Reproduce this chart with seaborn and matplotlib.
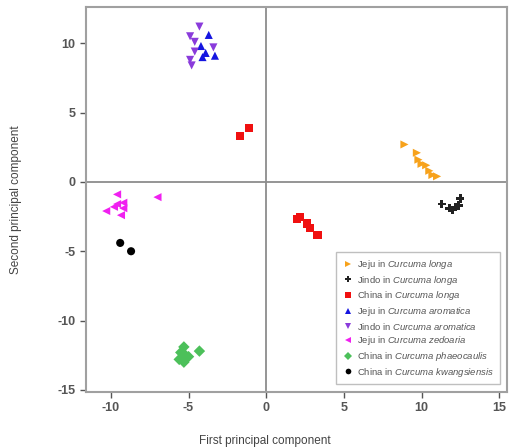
import matplotlib
matplotlib.use("Agg")
import matplotlib.pyplot as plt
import seaborn as sns
import pandas as pd
import numpy as np

# PCA scores
jeju_longa_x = [8.9, 9.7, 9.8, 10.0, 10.3, 10.5, 10.7, 11.0]
jeju_longa_y = [2.7, 2.1, 1.6, 1.3, 1.2, 0.8, 0.5, 0.4]
jindo_longa_x = [11.3, 11.8, 12.2, 12.5, 12.4, 12.0]
jindo_longa_y = [-1.6, -1.9, -1.8, -1.2, -1.7, -2.0]
china_longa_x = [-1.7, -1.1, 2.0, 2.2, 2.6, 2.8, 3.3]
china_longa_y = [3.3, 3.9, -2.7, -2.5, -3.0, -3.3, -3.8]
jeju_arom_x = [-3.7, -4.2, -3.9, -3.3, -4.1]
jeju_arom_y = [10.6, 9.8, 9.3, 9.1, 9.0]
jindo_arom_x = [-4.3, -4.9, -4.6, -3.4, -4.6, -4.9, -4.8]
jindo_arom_y = [11.2, 10.5, 10.1, 9.7, 9.4, 8.8, 8.4]
jeju_zed_x = [-9.6, -10.3, -9.8, -9.2, -9.35, -9.6, -9.2, -7.0]
jeju_zed_y = [-0.9, -2.1, -1.8, -1.5, -2.4, -1.6, -1.9, -1.1]
china_phae_x = [-5.3, -5.5, -5.2, -5.6, -5.3, -5.0, -4.3]
china_phae_y = [-11.9, -12.3, -12.5, -12.8, -13.0, -12.6, -12.2]
china_kwan_x = [-9.4, -8.7]
china_kwan_y = [-4.4, -5.0]

groups = [
    (r"Jeju in $\it{Curcuma\ longa}$", jeju_longa_x, jeju_longa_y),
    (r"Jindo in $\it{Curcuma\ longa}$", jindo_longa_x, jindo_longa_y),
    (r"China in $\it{Curcuma\ longa}$", china_longa_x, china_longa_y),
    (r"Jeju in $\it{Curcuma\ aromatica}$", jeju_arom_x, jeju_arom_y),
    (r"Jindo in $\it{Curcuma\ aromatica}$", jindo_arom_x, jindo_arom_y),
    (r"Jeju in $\it{Curcuma\ zedoaria}$", jeju_zed_x, jeju_zed_y),
    (r"China in $\it{Curcuma\ phaeocaulis}$", china_phae_x, china_phae_y),
    (r"China in $\it{Curcuma\ kwangsiensis}$", china_kwan_x, china_kwan_y),
]
colors = ["#F7A21B", "#222222", "#F01010", "#1515E0", "#8A3BDB", "#F020F0", "#4CC05A", "#000000"]
markers = [">", "P", "s", "^", "v", "<", "D", "o"]

rows = []
for name, xs, ys in groups:
    for x, y in zip(xs, ys):
        rows.append({"PC1": x, "PC2": y, "group": name})
df = pd.DataFrame(rows)
names = [g[0] for g in groups]

sns.set_style("white")
plt.rcParams["font.family"] = ["Liberation Sans", "DejaVu Sans"]
plt.rcParams["mathtext.fontset"] = "custom"
plt.rcParams["mathtext.it"] = "Liberation Sans:italic"
plt.rcParams["mathtext.rm"] = "Liberation Sans"
plt.rcParams["axes.unicode_minus"] = False

fig = plt.figure(figsize=(5.09, 4.48), dpi=100)
ax = fig.add_axes([0.169, 0.125, 0.827, 0.859])

gray = "#8c8c8c"
ax.axhline(0, color=gray, lw=1.3, zorder=1)
ax.axvline(0, color=gray, lw=1.3, zorder=1)

sns.scatterplot(data=df, x="PC1", y="PC2", hue="group", style="group",
                hue_order=names, style_order=names,
                palette=dict(zip(names, colors)), markers=dict(zip(names, markers)),
                s=34, edgecolor="none", linewidth=0, ax=ax, zorder=3)

ax.set_xlim(-11.6, 15.5)
ax.set_ylim(-15.15, 12.6)
ax.set_xticks([-10, -5, 0, 5, 10, 15])
ax.set_yticks([-15, -10, -5, 0, 5, 10])
ax.tick_params(direction="out", length=4, width=1, color="#555555",
               labelsize=9, labelcolor="#555555", bottom=True, left=True)
for lab in ax.get_xticklabels() + ax.get_yticklabels():
    lab.set_fontweight("bold")
for sp in ax.spines.values():
    sp.set_color("#a0a0a0")
    sp.set_linewidth(1.5)
ax.set_xlabel("")
ax.set_ylabel("")

fig.text(0.52, 0.003, "First principal component", ha="center", va="bottom",
         fontsize=8.5, color="#444444")
fig.text(0.032, 0.555, "Second principal component", ha="center", va="center",
         rotation=90, fontsize=8.5, color="#444444")

leg = ax.legend(loc="lower right", fontsize=6.8, frameon=True, markerscale=0.7,
                handletextpad=0.3, handlelength=1.4, labelspacing=0.28, borderpad=0.6,
                bbox_to_anchor=(0.995, 0.008))
leg.get_frame().set_edgecolor("#b0b0b0")
leg.get_frame().set_linewidth(1.0)
leg.get_frame().set_boxstyle("square", pad=0)
for t in leg.get_texts():
    t.set_color("#555555")

fig.savefig("out.png", dpi=100)
